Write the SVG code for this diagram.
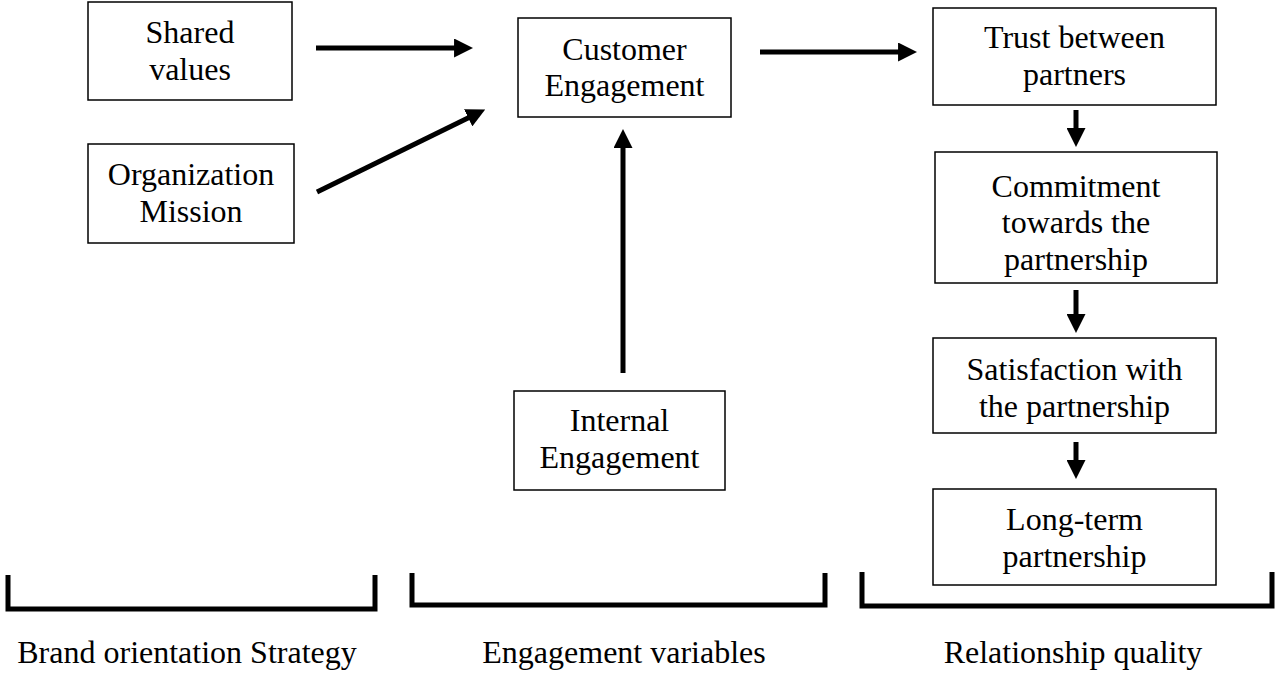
<svg xmlns="http://www.w3.org/2000/svg" width="1277" height="675" viewBox="0 0 1277 675">
<style>
.box{fill:#fff;stroke:#000;stroke-width:1.5}
.t{font-family:"Liberation Serif","Times New Roman",serif;font-size:32px;fill:#000;text-anchor:middle}
.c{stroke:#000;stroke-width:5;fill:none}
.br{stroke:#000;stroke-width:5;fill:none}
</style>
<defs>
<marker id="ah" viewBox="0 0 20 20" refX="1" refY="10" markerWidth="19" markerHeight="19" markerUnits="userSpaceOnUse" orient="auto">
<path d="M0,0 L20,10 L0,20 z" fill="#000"/>
</marker>
</defs>
<rect width="1277" height="675" fill="#fff"/>
<g id="shared-values"><rect class="box" x="88" y="2" width="204" height="98"/><text class="t" x="190" y="43">Shared</text><text class="t" x="190" y="80">values</text></g>
<g id="org-mission"><rect class="box" x="88" y="144" width="206" height="99"/><text class="t" x="191" y="185">Organization</text><text class="t" x="191" y="222">Mission</text></g>
<g id="customer-engagement"><rect class="box" x="518" y="18" width="213" height="99"/><text class="t" x="624.5" y="60">Customer</text><text class="t" x="624.5" y="96">Engagement</text></g>
<g id="internal-engagement"><rect class="box" x="514" y="391" width="211" height="99"/><text class="t" x="619.5" y="431">Internal</text><text class="t" x="619.5" y="468">Engagement</text></g>
<g id="trust"><rect class="box" x="933" y="8" width="283" height="97"/><text class="t" x="1074.5" y="48">Trust between</text><text class="t" x="1074.5" y="85">partners</text></g>
<g id="commitment"><rect class="box" x="935" y="152" width="282" height="131"/><text class="t" x="1076" y="197">Commitment</text><text class="t" x="1076" y="233">towards the</text><text class="t" x="1076" y="270">partnership</text></g>
<g id="satisfaction"><rect class="box" x="933" y="338" width="283" height="95"/><text class="t" x="1074.5" y="380">Satisfaction with</text><text class="t" x="1074.5" y="417">the partnership</text></g>
<g id="long-term"><rect class="box" x="933" y="489" width="283" height="96"/><text class="t" x="1074.5" y="530">Long-term</text><text class="t" x="1074.5" y="567">partnership</text></g>
<g id="connectors">
<line class="c" x1="316" y1="48" x2="455" y2="48" marker-end="url(#ah)"/>
<line class="c" x1="317" y1="192" x2="469" y2="117.4" marker-end="url(#ah)"/>
<line class="c" x1="760" y1="52" x2="899" y2="52" marker-end="url(#ah)"/>
<line class="c" x1="623" y1="373" x2="623" y2="147" marker-end="url(#ah)"/>
<line class="c" x1="1076" y1="110" x2="1076" y2="129" marker-end="url(#ah)"/>
<line class="c" x1="1076" y1="290" x2="1076" y2="315" marker-end="url(#ah)"/>
<line class="c" x1="1076" y1="442" x2="1076" y2="461" marker-end="url(#ah)"/>
</g>
<g id="brackets">
<path class="br" d="M8,575 V609 H375 V575"/>
<path class="br" d="M412,573 V605 H825 V573"/>
<path class="br" d="M862,572 V606 H1272 V572"/>
</g>
<g id="labels">
<text class="t" x="187" y="663">Brand orientation Strategy</text>
<text class="t" x="624" y="663">Engagement variables</text>
<text class="t" x="1073" y="663">Relationship quality</text>
</g>
</svg>
